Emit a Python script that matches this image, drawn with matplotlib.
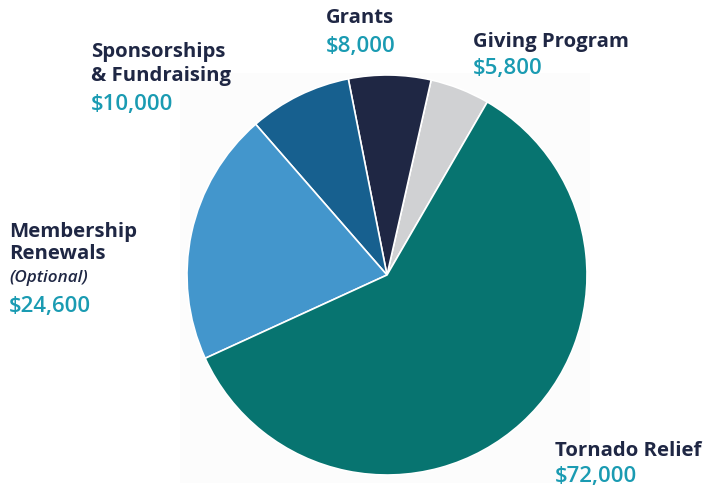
import matplotlib.pyplot as plt
from matplotlib.patches import Rectangle

plt.rcParams['font.family'] = ['Open Sans', 'DejaVu Sans']

# slice data, counterclockwise from the top right
categories = ['Giving Program', 'Grants', 'Sponsorships\n& Fundraising',
              'Membership\nRenewals', 'Tornado Relief']
values = [5800, 8000, 10000, 24600, 72000]
value_labels = ['$5,800', '$8,000', '$10,000', '$24,600', '$72,000']
colors = ['#d0d1d3', '#1f2744', '#17608f', '#4396cc', '#077470']

W, H = 707, 488
fig = plt.figure(figsize=(W / 100, H / 100), dpi=100)

# faint backdrop behind the pie
fig.patches.append(Rectangle((180 / W, 1 - 483 / H), 410 / W, 410 / H,
                             transform=fig.transFigure, color='#fcfcfc',
                             zorder=-5, lw=0))

ax = fig.add_axes([187 / W, 13 / H, 400 / W, 400 / H])
ax.set_zorder(2)
ax.pie(values, colors=colors, startangle=59.9, counterclock=True,
       wedgeprops=dict(edgecolor='white', linewidth=1.2), radius=1)
ax.set_xlim(-1, 1)
ax.set_ylim(-1, 1)
ax.set_aspect('equal')
ax.axis('off')

navy = '#1f2744'
teal = '#1a9bb2'
fs = 14.7
vfs = 16


def px(x, y):
    return x / W, 1 - y / H


# label blocks: (x, [baselines of name lines], value baseline)
def label(x, lines, baselines, value, vbase, note=None, nbase=None):
    for line, b in zip(lines, baselines):
        fig.text(*px(x, b), line, color=navy, fontsize=fs, fontweight='bold',
                 va='baseline', ha='left')
    if note:
        fig.text(*px(x, nbase), note, color=navy, fontsize=12.3,
                 fontweight='semibold', fontstyle='italic', va='baseline',
                 ha='left')
    fig.text(*px(x, vbase), value, color=teal, fontsize=vfs,
             fontweight='semibold', va='baseline', ha='left')


label(473, categories[0].split('\n'), [46.7], value_labels[0], 74)
label(326, categories[1].split('\n'), [23.3], value_labels[1], 51.7)
label(91, categories[2].split('\n'), [56.7, 81], value_labels[2], 110)
label(9, categories[3].split('\n'), [237.3, 259.3], value_labels[3], 312.3,
      note='(Optional)', nbase=281.7)
label(555, categories[4].split('\n'), [455.7], value_labels[4], 482.3)

fig.savefig('out.png', dpi=100, facecolor='white')
